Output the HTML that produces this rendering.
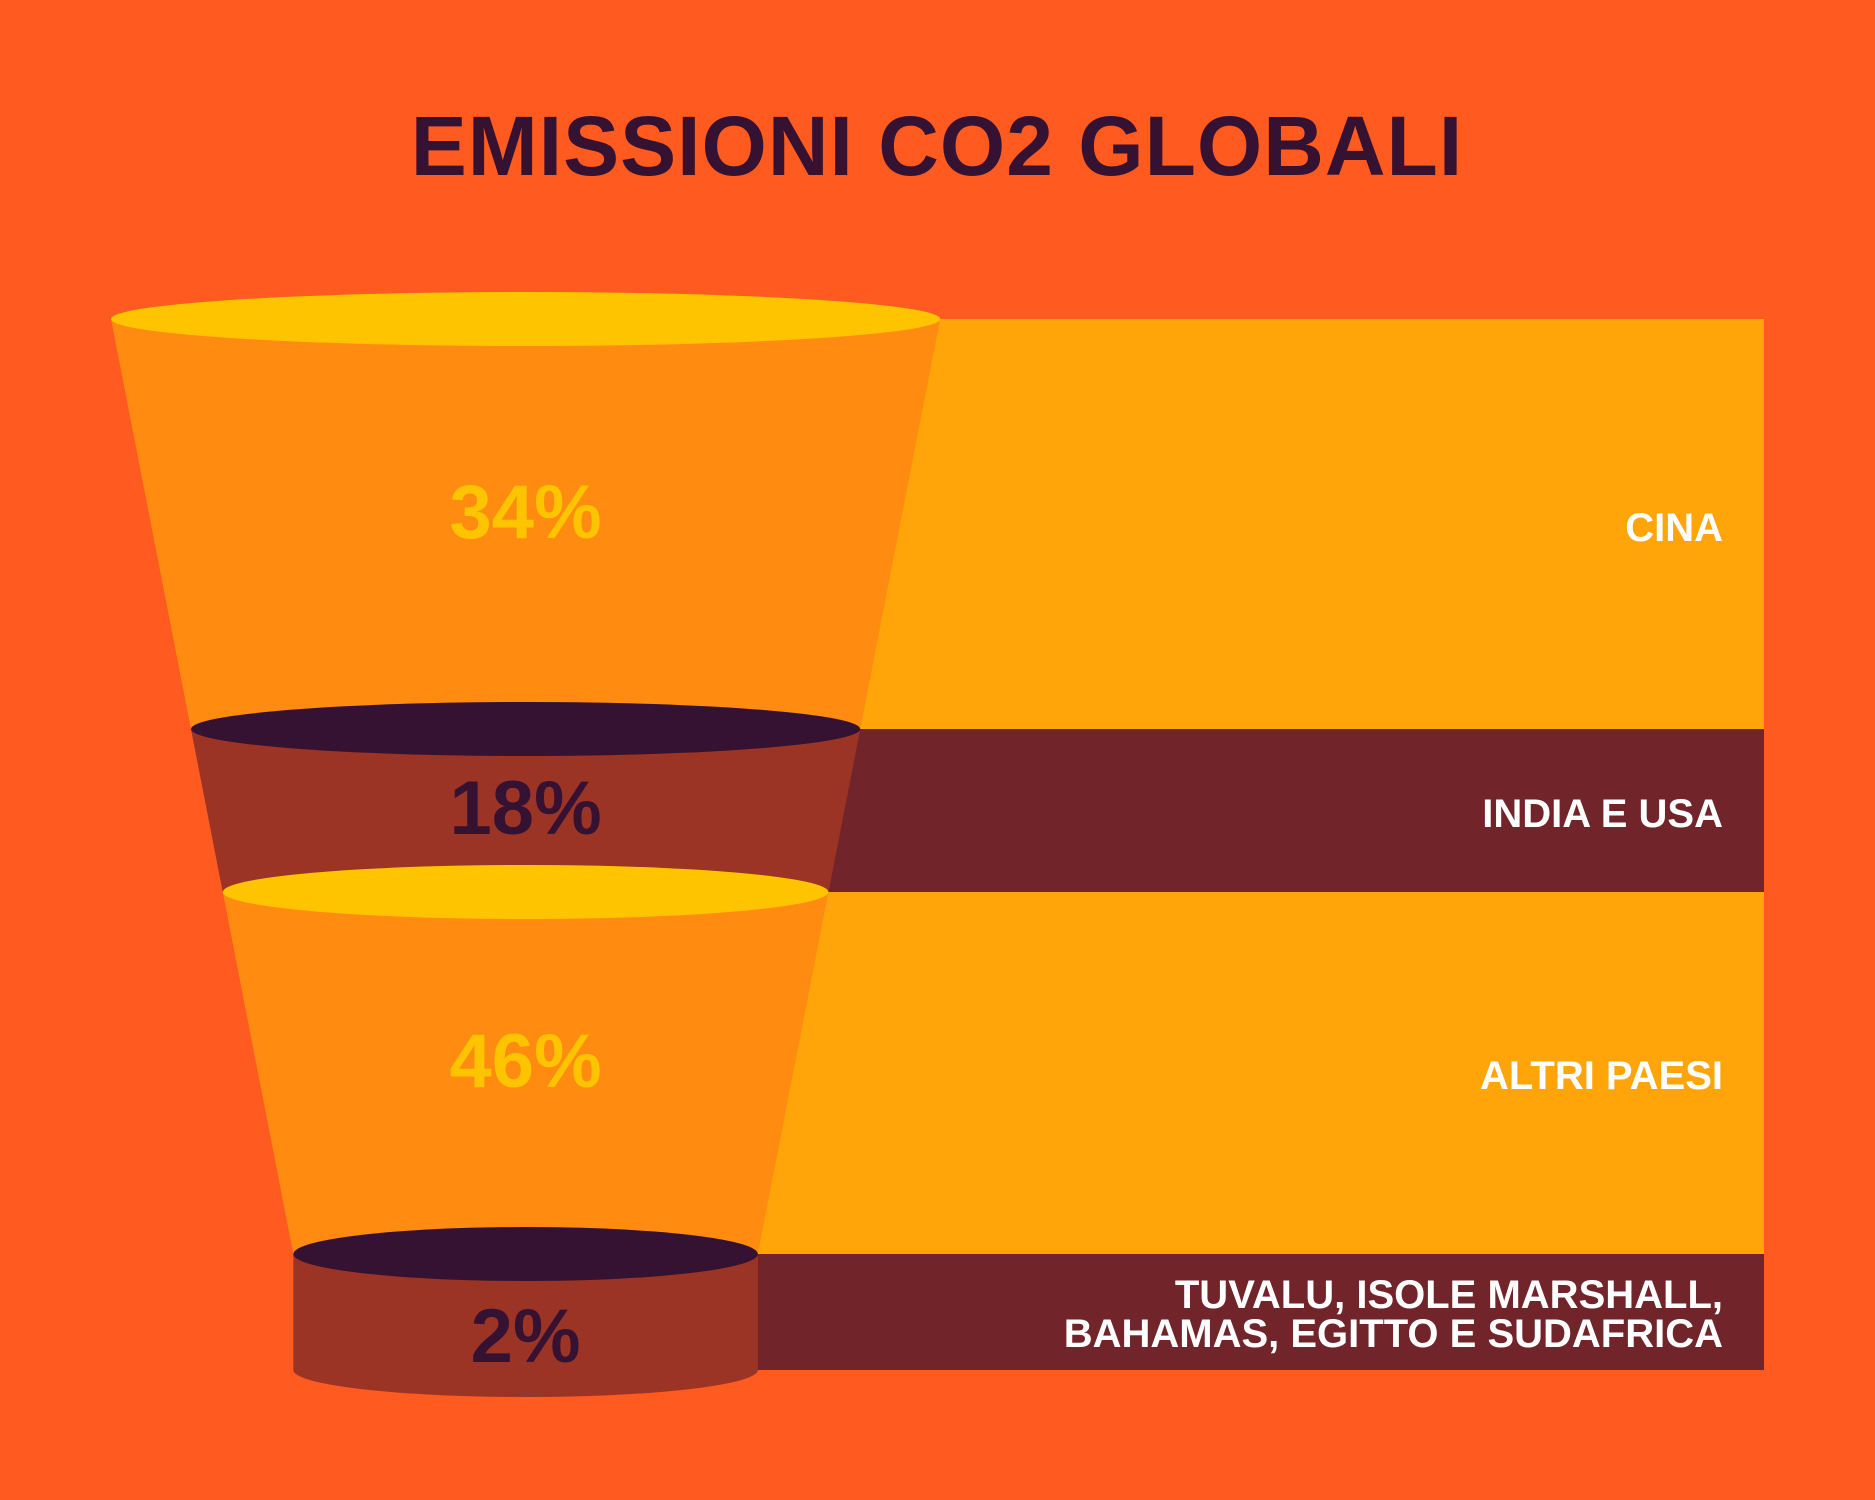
<!DOCTYPE html>
<html><head><meta charset="utf-8"><style>
html,body{margin:0;padding:0;background:#FF5A1F;}
svg{display:block;}
text{font-family:"Liberation Sans",sans-serif;font-weight:bold;}
</style></head><body>
<svg id="chart" width="1875" height="1500" viewBox="0 0 1875 1500" xmlns="http://www.w3.org/2000/svg">
<rect x="0" y="0" width="1875" height="1500" fill="#FF5A1F"/>
<text x="937" y="175" text-anchor="middle" font-size="84" fill="#361232" letter-spacing="1">EMISSIONI CO2 GLOBALI</text>
<g id="bands"></g>
<g id="funnel"></g>
<g id="labels"></g>
</svg>
<script>
const categories = ["CINA", "INDIA E USA", "ALTRI PAESI", "TUVALU, ISOLE MARSHALL,|BAHAMAS, EGITTO E SUDAFRICA"];
const values = [34, 18, 46, 2];
const valueLabels = ["34%", "18%", "46%", "2%"];

const NS = "http://www.w3.org/2000/svg";
const cx = 525.6, topY = 319, slope = 0.195, halfTop = 414.6, rightX = 1764;
const bounds = [319, 729, 892, 1254, 1370];
const funnelFill = ["#FF8C10", "#9C3426", "#FF8C10", "#9C3426"];
const bandFill = ["#FFA50A", "#72242B", "#FFA50A", "#72242B"];
const ellFill = ["#FFC400", "#361232", "#FFC400", "#361232"];
const pctFill = ["#FFC400", "#361232", "#FFC400", "#361232"];
function half(y){ return halfTop - slope*(y-topY); }
function mk(tag, attrs, parent){ const e=document.createElementNS(NS,tag); for(const k in attrs) e.setAttribute(k,attrs[k]); parent.appendChild(e); return e; }
const gb=document.getElementById('bands'), gf=document.getElementById('funnel'), gl=document.getElementById('labels');
const ry = 27;
values.forEach((v,i)=>{
  const y0=bounds[i], y1=bounds[i+1];
  const r = mk('rect',{x:cx,y:y0,width:rightX-cx,height:y1-y0,fill:bandFill[i]},gb);
  
  
  let seg;
  if(i<3){
    const h0=half(y0), h1=half(y1);
    seg = mk('polygon',{points:`${cx-h0},${y0} ${cx+h0},${y0} ${cx+h1},${y1} ${cx-h1},${y1}`,fill:funnelFill[i]},gf);
  } else {
    const h=half(y0);
    seg = mk('path',{d:`M${cx-h},${y0} L${cx+h},${y0} L${cx+h},${y1} A${h},${ry} 0 0 1 ${cx-h},${y1} Z`,fill:funnelFill[i]},gf);
  }
  
  
});
values.forEach((v,i)=>{
  const y0=bounds[i];
  const e = mk('ellipse',{cx:cx,cy:y0,rx:half(y0),ry:ry,fill:ellFill[i]},gf);
  
  
});
const pctY=[511,807,1060,1335];
const labY=[[526],[812],[1074],[1293,1332]];
values.forEach((v,i)=>{
  const t = mk('text',{x:cx,y:pctY[i]+27,'text-anchor':'middle','font-size':76,fill:pctFill[i]},gl);
  t.textContent = valueLabels[i];
  
  
  const lines = categories[i].split('|');
  lines.forEach((ln,j)=>{
    const c = mk('text',{x:1723,y:labY[i][j]+15,'text-anchor':'end','font-size':40,fill:'#FFFFFF'},gl);
    c.textContent = ln;
    
    
  });
});
</script>
</body></html>
